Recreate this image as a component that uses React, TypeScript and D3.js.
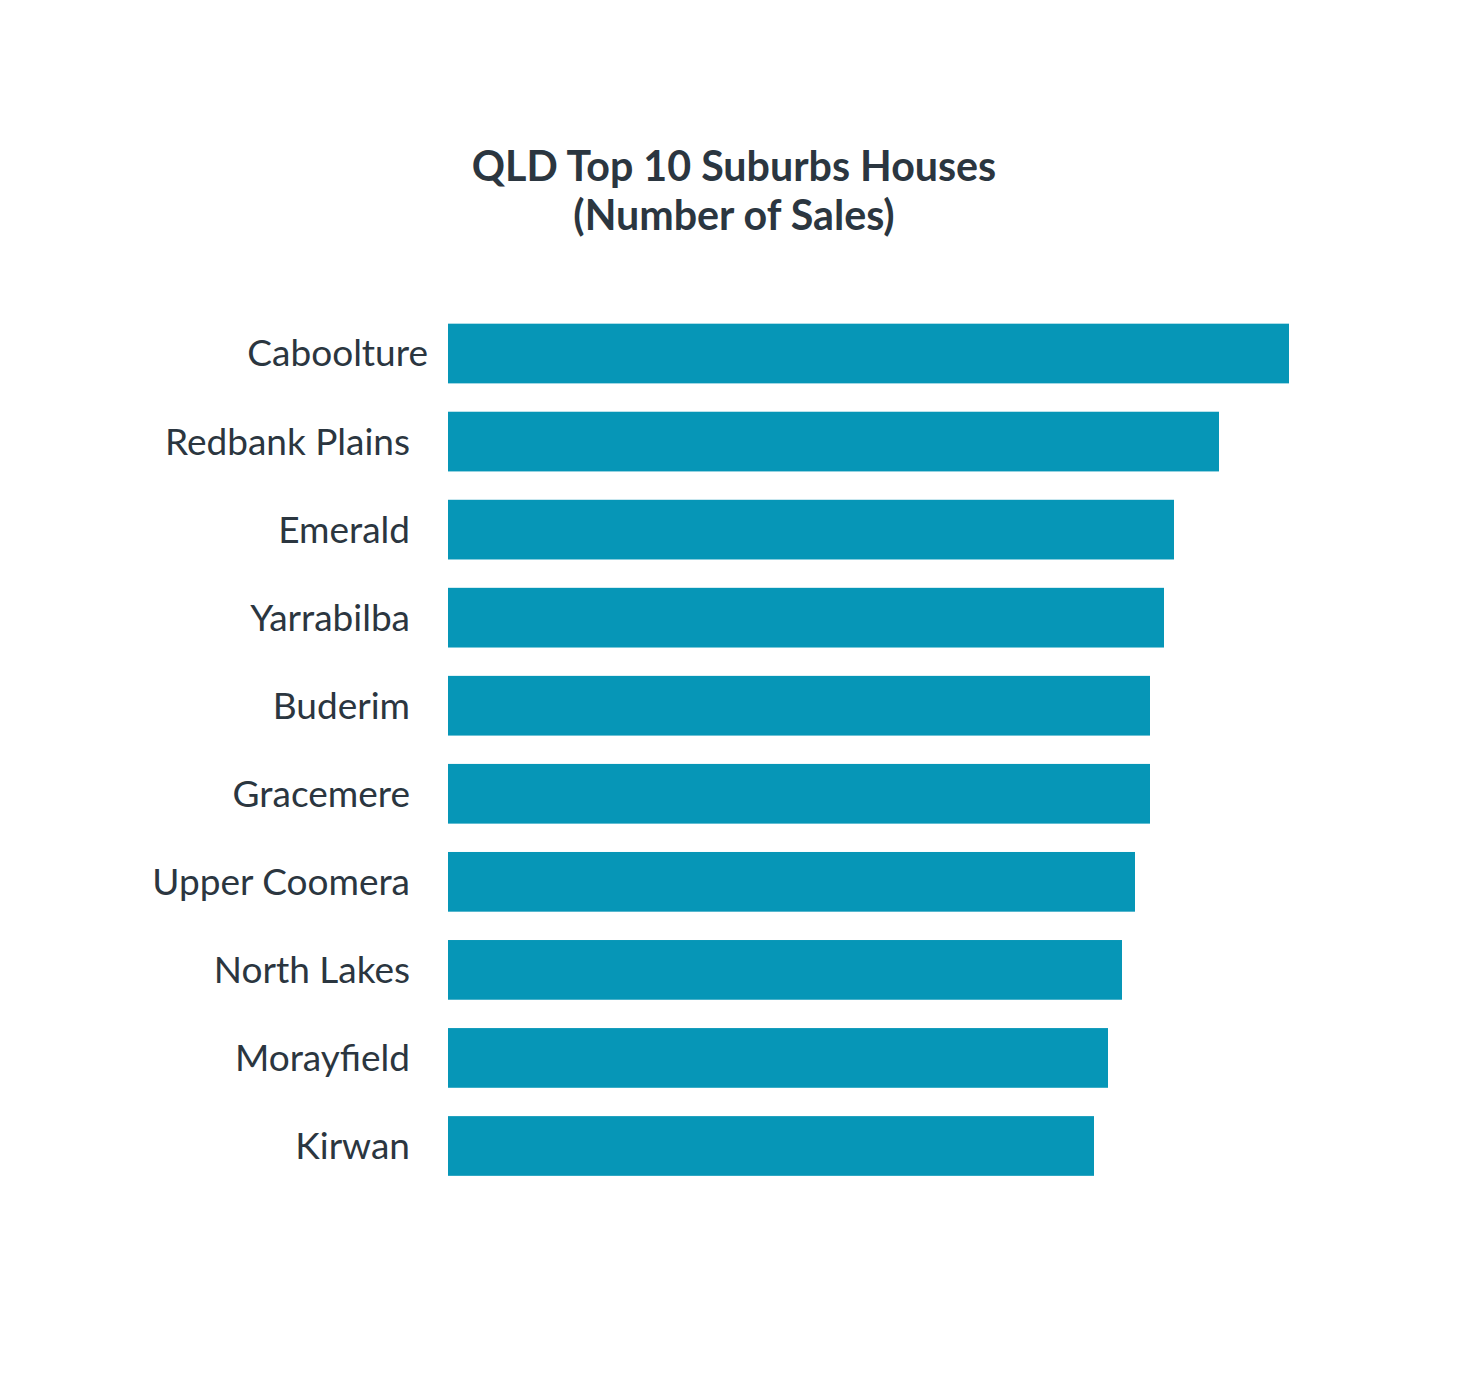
import { useEffect, useRef } from "react";
import * as d3 from "d3";

const suburbs = [
  "Caboolture",
  "Redbank Plains",
  "Emerald",
  "Yarrabilba",
  "Buderim",
  "Gracemere",
  "Upper Coomera",
  "North Lakes",
  "Morayfield",
  "Kirwan",
];

const sales = [841, 771, 726, 716, 702, 702, 687, 674, 660, 646];

const titleLines = ["QLD Top 10 Suburbs Houses", "(Number of Sales)"];

export default function App() {
  const svgRef = useRef(null);

  useEffect(() => {
    if (!svgRef.current) return;

    const width = 1469;
    const height = 1373;

    const svg = d3.select(svgRef.current);
    svg.selectAll("*").remove();
    svg.attr("width", width).attr("height", height);

    svg
      .append("rect")
      .attr("width", width)
      .attr("height", height)
      .attr("fill", "white");

    const x = d3
      .scaleLinear()
      .domain([0, d3.max(sales) || 1])
      .range([448, 1289]);

    const y = d3
      .scaleBand()
      .domain(suburbs)
      .range([309.5, 1190])
      .paddingInner(0.322)
      .paddingOuter(0.161);

    svg
      .selectAll("text.title")
      .data(titleLines)
      .enter()
      .append("text")
      .attr("class", "title")
      .attr("x", 734)
      .attr("y", (d, i) => 181 + i * 49)
      .attr("text-anchor", "middle")
      .attr("fill", "#2b3640")
      .attr("font-family", "Lato, sans-serif")
      .attr("font-weight", "bold")
      .attr("font-size", "41.2px")
      .text((d) => d);

    suburbs.forEach((s, i) => {
      const yPos = y(s)!;

      svg
        .append("rect")
        .attr("x", x(0))
        .attr("y", yPos)
        .attr("width", x(sales[i]) - x(0))
        .attr("height", y.bandwidth())
        .attr("fill", "#0696b7");

      svg
        .append("text")
        .attr("x", i === 0 ? 428 : 410)
        .attr("y", yPos + y.bandwidth() / 2)
        .attr("dy", "0.35em")
        .attr("text-anchor", "end")
        .attr("fill", "#2b3640")
        .attr("font-family", "Lato, sans-serif")
        .attr("font-size", "37px")
        .text(s);
    });
  }, []);

  return <svg ref={svgRef} style={{ display: "block", margin: -8 }} />;
}
